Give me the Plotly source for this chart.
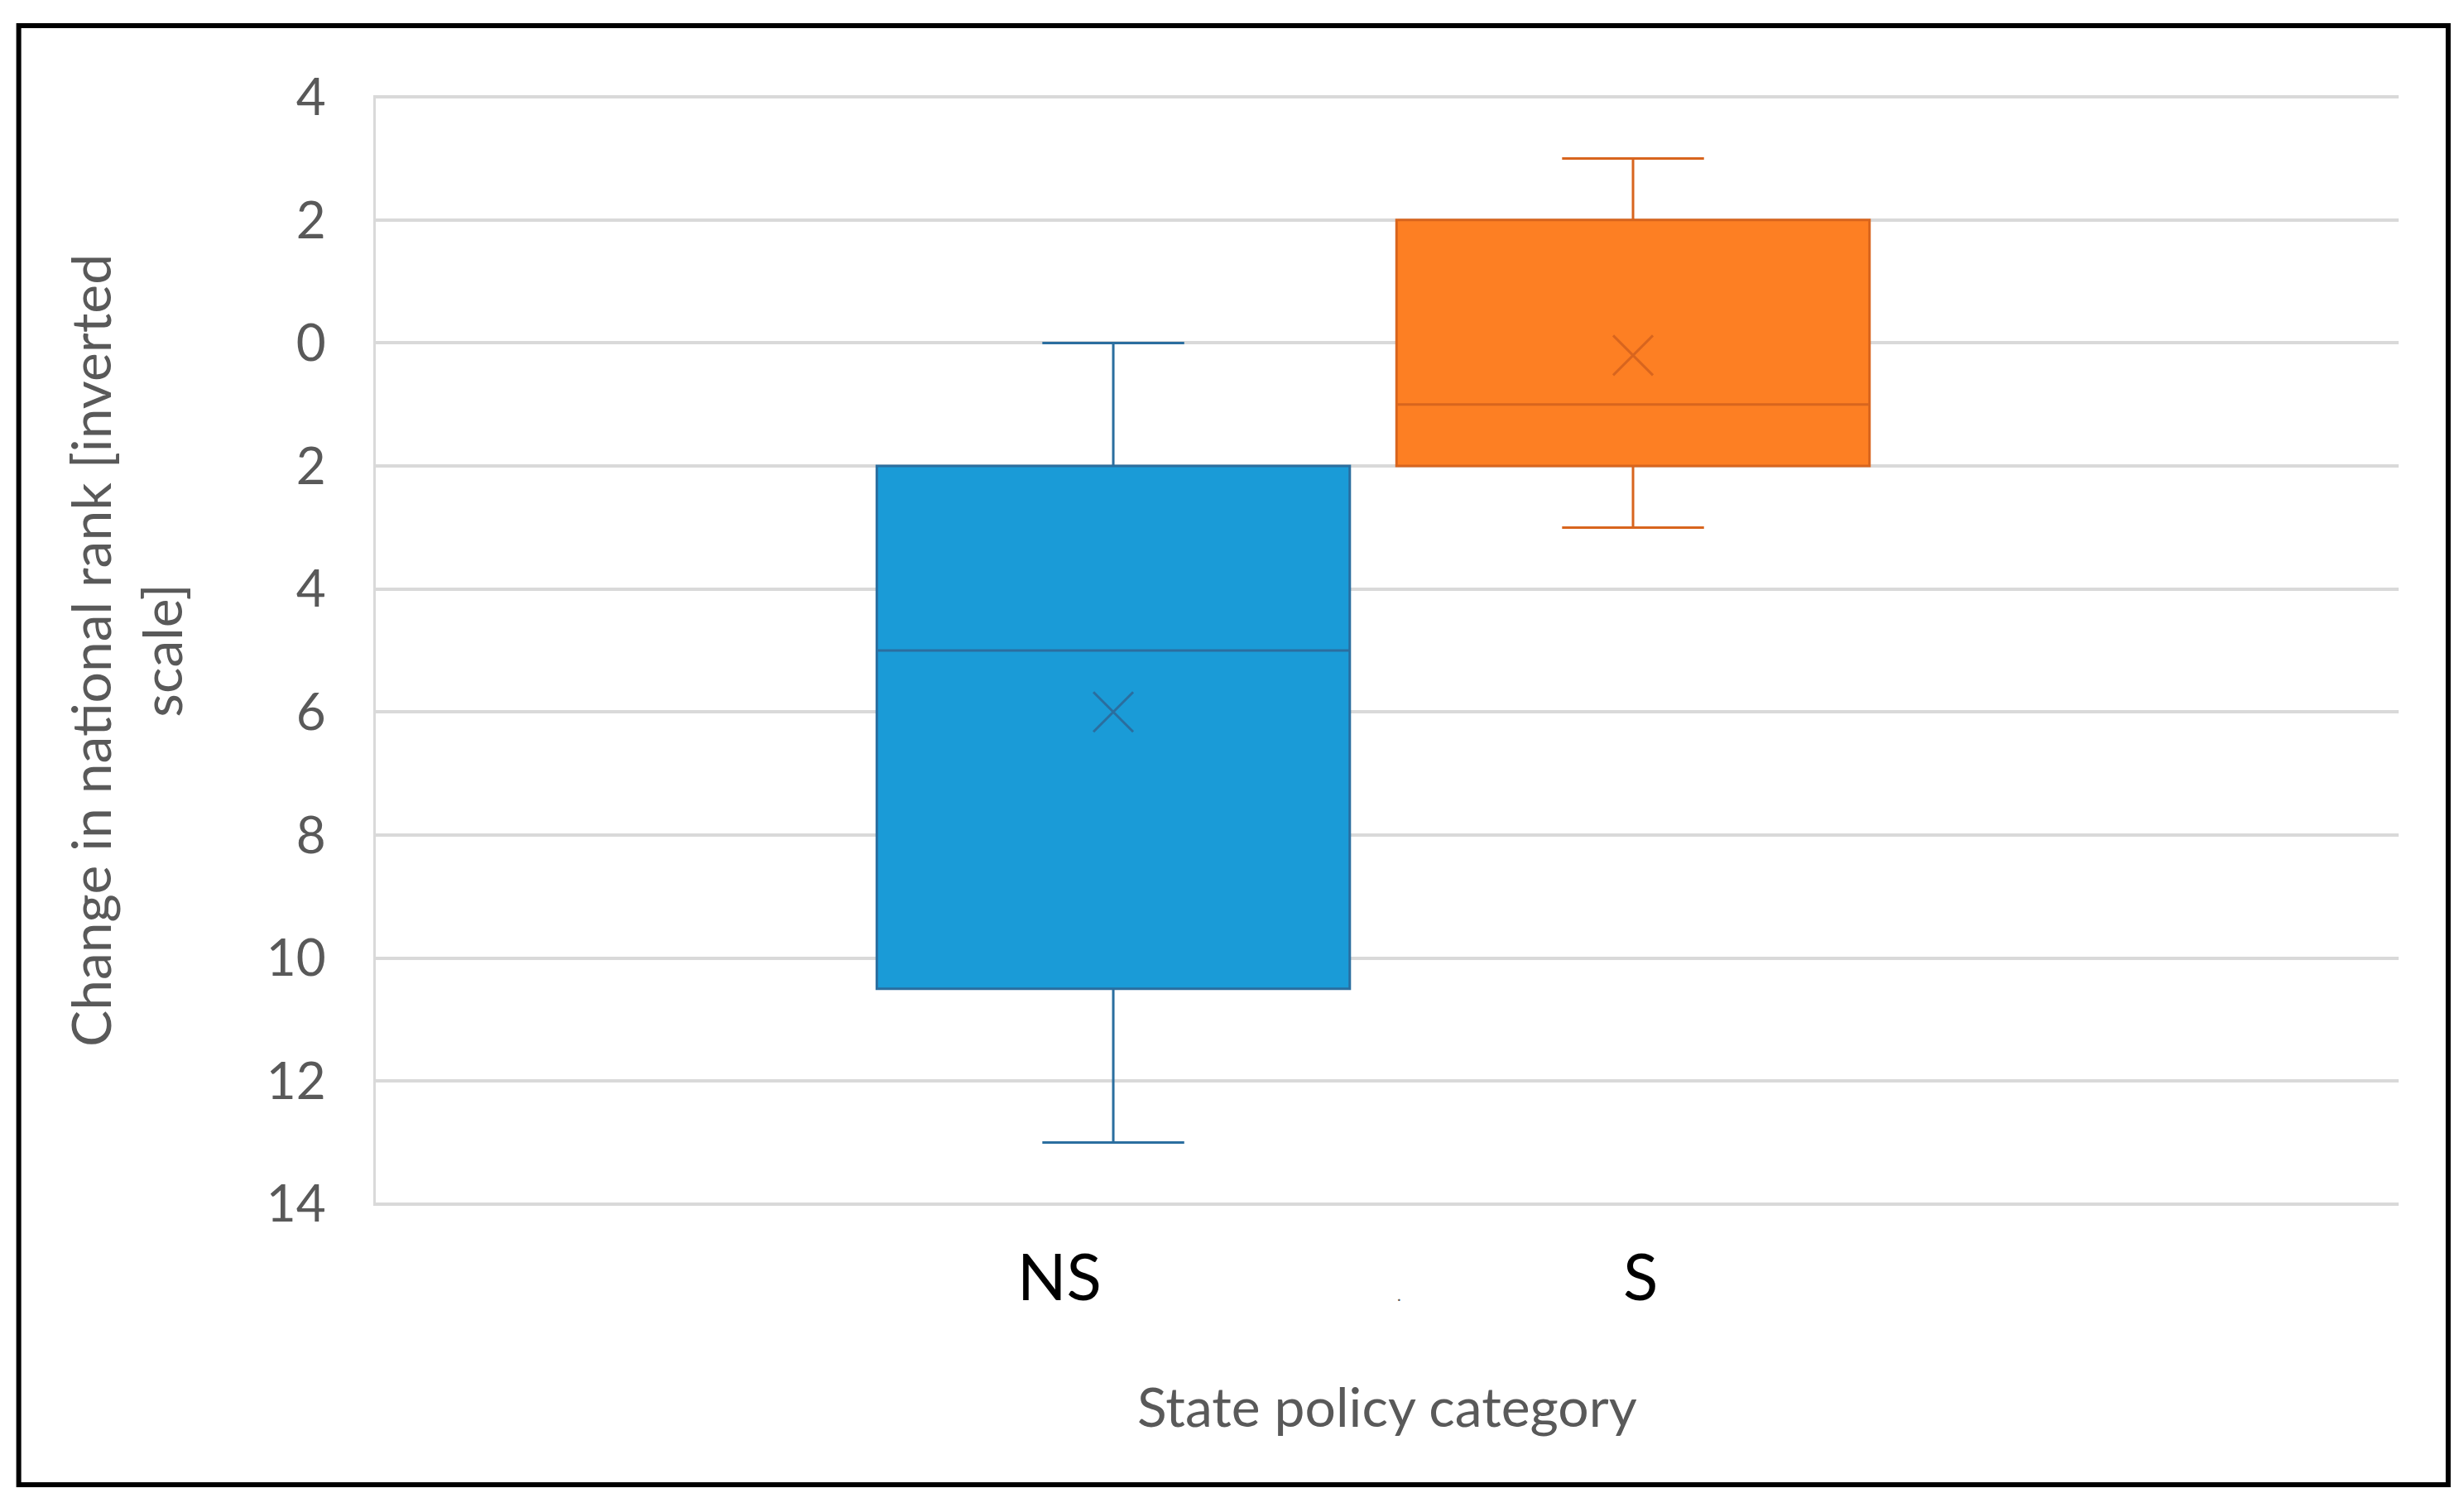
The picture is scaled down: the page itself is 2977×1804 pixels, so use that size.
import plotly.graph_objects as go

# box statistics (axis is inverted: down = larger value)
CATEGORIES = ["NS", "S"]
LOWER_WHISKER = [0, -3]
Q1 = [2, -2]
MEDIAN = [5, 1]
Q3 = [10.5, 2]
UPPER_WHISKER = [13, 3]
MEAN = [6, 0.2]

Y_TICKS = [-4, -2, 0, 2, 4, 6, 8, 10, 12, 14]
Y_TICK_TEXT = [str(abs(v)) for v in Y_TICKS]

FILL_COLORS = ["#1A9BD7", "#FD7F23"]
LINE_COLORS = ["#2B6E9F", "#D8651E"]
GRID = "#D9D9D9"
TEXT_GRAY = "#595959"
FONT = "Lato"

fig = go.Figure()

for i, cat in enumerate(CATEGORIES):
    fig.add_trace(go.Box(
        x=[cat],
        q1=[Q1[i]], median=[MEDIAN[i]], q3=[Q3[i]],
        lowerfence=[LOWER_WHISKER[i]], upperfence=[UPPER_WHISKER[i]],
        fillcolor=FILL_COLORS[i],
        line=dict(color=LINE_COLORS[i], width=3),
        whiskerwidth=0.3,
        boxpoints=False,
        hoverinfo="skip",
        showlegend=False,
    ))
    # mean shown as an "x" like Excel
    fig.add_trace(go.Scatter(
        x=[cat], y=[MEAN[i]],
        mode="markers",
        marker=dict(symbol="x-thin", size=48,
                    line=dict(color=LINE_COLORS[i], width=3)),
        hoverinfo="skip",
        showlegend=False,
    ))

# category labels under the boxes, and the stray "." category label
fig.add_annotation(x=0.338, y=-0.099, xref="paper", yref="paper",
                   text="NS", showarrow=False,
                   font=dict(family=FONT, size=78, color="#000000"))
fig.add_annotation(x=0.625, y=-0.099, xref="paper", yref="paper",
                   text="S", showarrow=False,
                   font=dict(family=FONT, size=78, color="#000000"))
fig.add_annotation(x=0.506, y=-0.09, xref="paper", yref="paper",
                   text=".", showarrow=False,
                   font=dict(family=FONT, size=20, color=TEXT_GRAY))

# axis titles
fig.add_annotation(x=0.5, y=-0.180, xref="paper", yref="paper",
                   xanchor="center", yanchor="middle",
                   text="State policy category", showarrow=False,
                   font=dict(family=FONT, size=66, color=TEXT_GRAY))
fig.add_annotation(x=-0.124, y=0.5, xref="paper", yref="paper",
                   xanchor="center", yanchor="middle",
                   text="Change in national rank [inverted<br>scale]",
                   textangle=-90, showarrow=False,
                   font=dict(family=FONT, size=66, color=TEXT_GRAY))

# outer frame
fig.add_shape(type="rect", xref="paper", yref="paper",
              x0=-0.1765, x1=1.0245, y0=-0.2511, y1=1.0626,
              line=dict(color="#000000", width=6))

fig.update_layout(
    width=2977, height=1804,
    margin=dict(l=446, r=87, t=107, b=355),
    paper_bgcolor="white",
    plot_bgcolor="white",
    boxgap=0.09,
    boxgroupgap=0,
    font=dict(family=FONT, color=TEXT_GRAY),
)

fig.update_xaxes(
    type="category",
    categoryorder="array", categoryarray=CATEGORIES,
    range=[-1.419, 2.473],
    showgrid=False, zeroline=False, showticklabels=False,
    showline=False,
)

fig.update_yaxes(
    # tiny pad so the gridlines at 4 and 14 are still drawn
    range=[14.03, -4.03],
    tickvals=Y_TICKS, ticktext=Y_TICK_TEXT,
    tickfont=dict(family=FONT, size=62, color=TEXT_GRAY),
    ticklabelstandoff=45,
    showgrid=True, gridcolor=GRID, gridwidth=3.5,
    zeroline=False,
    showline=True, linecolor=GRID, linewidth=3,
    ticks="",
)

fig.write_html("out.html")
